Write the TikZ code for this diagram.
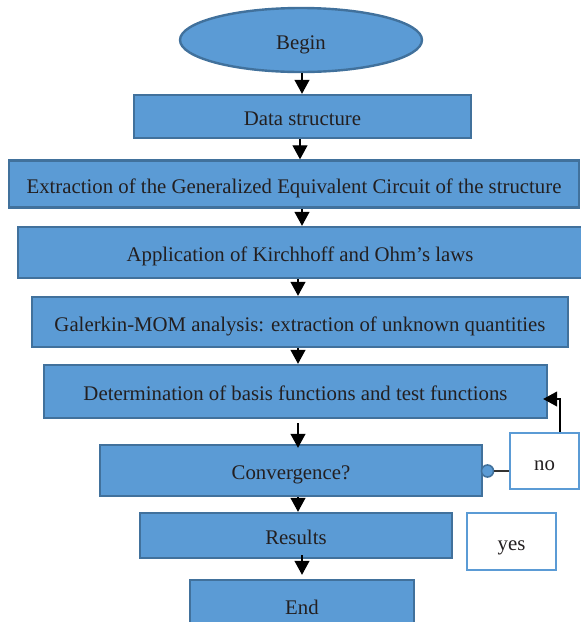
\documentclass[tikz,border=0pt]{standalone}
\usepackage{fontspec}
\setmainfont{Liberation Serif}
\usetikzlibrary{shapes.geometric,arrows.meta}
\definecolor{boxfill}{HTML}{5B9BD5}
\definecolor{boxline}{HTML}{41719C}
\definecolor{txt}{HTML}{231F20}
\tikzset{
  stepbox/.style={draw=boxline, line width=2.4pt, fill=boxfill, rectangle, inner sep=0pt,
    font=\fontsize{20.8}{24}\selectfont, text=txt, text height=18pt, text depth=0pt},
  ovalbox/.style={stepbox, ellipse},
  answerbox/.style={draw=boxfill, line width=2.6pt, fill=white, rectangle, inner sep=0pt,
    font=\fontsize{20.8}{24}\selectfont, text=txt, text height=18pt, text depth=0pt},
  arr/.style={draw=black, line width=1.1pt, -{Triangle[length=14pt,width=15pt]}},
  plainline/.style={draw=black!80, line width=1.1pt},
  dotnode/.style={circle, draw=boxline, line width=1.6pt, fill=boxfill, minimum size=12pt, inner sep=0pt}
}
\begin{document}
\begin{tikzpicture}[x=1pt,y=-1pt]
\useasboundingbox (0,0) rectangle (581,622);
\node[ovalbox, minimum width=242pt, minimum height=64pt] (begin) at (301,40) {Begin};
\node[stepbox, minimum width=337pt, minimum height=43pt] (data) at (302.5,116.5) {Data structure};
\node[stepbox, minimum width=570pt, minimum height=47pt] (ext) at (294,184) {Extraction of the Generalized Equivalent Circuit of the structure};
\node[stepbox, minimum width=564pt, minimum height=51pt] (app) at (300,252.5) {Application of Kirchhoff and Ohm’s laws};
\node[stepbox, minimum width=536pt, minimum height=50pt] (gal) at (300,322) {Galerkin-MOM analysis: extraction of unknown quantities};
\node[stepbox, minimum width=503pt, minimum height=53pt] (det) at (295.5,391.5) {Determination of basis functions and test functions};
\node[stepbox, minimum width=382pt, minimum height=51pt] (conv) at (291,470.5) {Convergence?};
\node[stepbox, minimum width=312pt, minimum height=45pt] (res) at (296,535.5) {Results};
\node[stepbox, minimum width=224pt, minimum height=50pt] (end) at (302,605) {End};
\node[answerbox, minimum width=69pt, minimum height=56pt] (no) at (544.5,461) {no};
\node[answerbox, minimum width=89pt, minimum height=57pt] (yes) at (511.5,541.5) {yes};
\node[dotnode] (dot) at (487.5,471) {};

\draw[arr] ([xshift=1pt]begin.south) -- ([xshift=1pt]begin.south |- data.north);
\draw[arr] ([xshift=-2.5pt]data.south) -- ([xshift=-2.5pt]data.south |- ext.north);
\draw[arr] ([xshift=8pt]ext.south) -- ([xshift=8pt]ext.south |- app.north);
\draw[arr] ([xshift=-2pt]app.south) -- ([xshift=-2pt]app.south |- gal.north);
\draw[arr] ([xshift=-2pt]gal.south) -- ([xshift=-2pt]gal.south |- det.north);
\draw[arr] ([xshift=2.5pt,yshift=-4pt]det.south) -- ([xshift=2.5pt,yshift=-4pt]det.south |- conv.north);
\draw[arr] ([xshift=7pt]conv.south) -- ([xshift=7pt]conv.south |- res.north);
\draw[arr] ([xshift=6pt,yshift=4pt]res.south) -- ([xshift=6pt,yshift=4pt]res.south |- end.north);

\draw[plainline] (dot.east) -- (dot.east -| no.west);
\draw[arr] ([xshift=15.5pt]no.north) |- ([xshift=-5pt,yshift=-7.5pt]det.east);
\end{tikzpicture}
\end{document}
